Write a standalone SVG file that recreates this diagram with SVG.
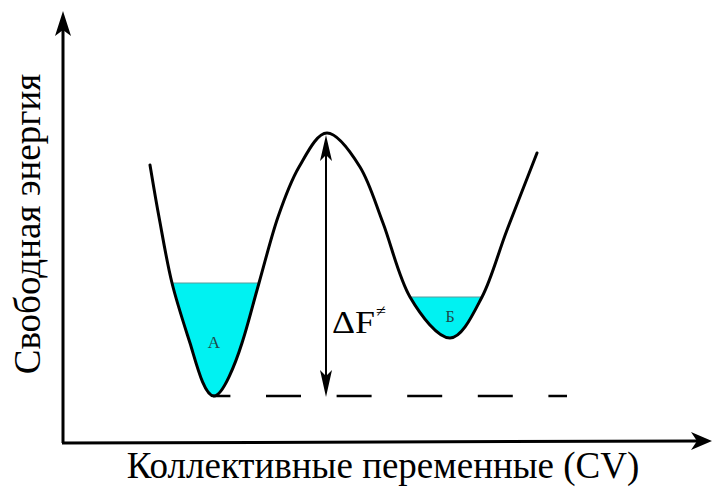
<svg xmlns="http://www.w3.org/2000/svg" width="712" height="491" viewBox="0 0 712 491">
<style>
text{font-family:'Liberation Serif','Times New Roman',Times,Tinos,'Noto Serif','DejaVu Serif',FreeSerif,serif}
.txt{fill:#000}
.lbl{fill:#1e4a4a}
.axis{stroke:#000;stroke-width:3;fill:none}
.curve{stroke:#000;stroke-width:3;fill:none;stroke-linecap:round;stroke-linejoin:round}
.well{fill:#00f2f2;stroke:none}
.level{stroke:#5a9a9a;stroke-width:1}
.dash{stroke:#000;stroke-width:2.5;stroke-dasharray:35 35.6;stroke-dashoffset:17.6;fill:none}
.head{fill:#000;stroke:none}
</style>
<rect width="712" height="491" fill="#fff"/>
<g id="well-A">
<path class="well" d="M172,283 C177.2,304 185,327.3 190,343 C196,362 204,396 214,396 C223,396 236,362 242,343 C247.3,327.3 253,304 259,283 Z"/>
<line class="level" x1="172" y1="283" x2="259" y2="283"/>
<text class="lbl" x="214" y="348" font-size="17" text-anchor="middle">А</text>
</g>
<g id="well-B">
<path class="well" d="M410,297 C421.2,316.2 438,338 450,338 C462,338 472.5,315 482,297 Z"/>
<line class="level" x1="410" y1="297" x2="482" y2="297"/>
<text class="lbl" x="450" y="322" font-size="16" text-anchor="middle">Б</text>
</g>
<g id="energy-curve">
<path class="curve" d="M150,165 C151.5,173.7 155.3,197.3 159,217 C162.7,236.7 166.8,262 172,283 C177.2,304 185,327.3 190,343 C196,362 204,396 214,396 C223,396 236,362 242,343 C247.3,327.3 253,304 259,283 C265,262 271.3,236.3 278,217 C284.7,197.7 290.8,181 299,167 C307.2,153 316.8,133 327,133 C337.2,133 350.7,152 360,167 C369.3,182 374.7,201.3 383,223 C391.3,244.7 398.8,277.8 410,297 C421.2,316.2 438,338 450,338 C462,338 472.5,315 482,297 C491.5,279 497.8,254 507,230 C516.2,206 532,165.8 537,153"/>
</g>
<g id="connectors">
<line class="axis" x1="63" y1="443" x2="63" y2="28"/>
<path class="head" d="M63,11 L71,36 L63,30 L55,36 Z"/>
<line class="axis" x1="62" y1="443" x2="698" y2="441"/>
<path class="head" d="M712,441 L691,432 L697,441 L691,450 Z"/>
<line class="dash" x1="213" y1="396" x2="567" y2="396"/>
<line x1="326" y1="152" x2="326" y2="380" stroke="#000" stroke-width="2"/>
<path class="head" d="M326,135 L332,161 L326,155 L320,161 Z"/>
<path class="head" d="M326,397 L332,370 L326,376 L320,370 Z"/>
</g>
<g id="barrier-label">
<text class="txt" x="332" y="333" font-size="32" textLength="43" lengthAdjust="spacingAndGlyphs">ΔF</text>
<text class="txt" x="376" y="317" font-size="18">≠</text>
</g>
<g id="y-axis-label">
<text class="txt" font-size="37" text-anchor="middle" transform="translate(40,224) rotate(-90)">Свободная энергия</text>
</g>
<g id="x-axis-label">
<text class="txt" x="383" y="478" font-size="37" text-anchor="middle">Коллективные переменные (CV)</text>
</g>
</svg>
